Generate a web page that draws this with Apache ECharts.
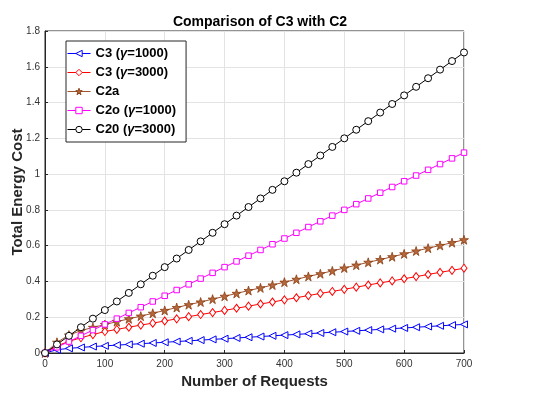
<!DOCTYPE html>
<html>
<head>
<meta charset="utf-8">
<script src="https://cdn.jsdelivr.net/npm/echarts@6/dist/echarts.min.js"></script>
<style>
html, body { margin: 0; padding: 0; background: #fff; }
#chart { width: 540px; height: 396px; }
</style>
</head>
<body>
<div id="chart"></div>
<script>
// number of requests (x)
var requests = [0, 20, 40, 60, 80, 100, 120, 140, 160, 180, 200, 220, 240, 260, 280, 300, 320, 340,
  360, 380, 400, 420, 440, 460, 480, 500, 520, 540, 560, 580, 600, 620, 640, 660, 680, 700];

var c3g1000 = [0, 0.018, 0.026, 0.031, 0.036, 0.040, 0.044, 0.048, 0.052, 0.056, 0.060, 0.064,
  0.068, 0.072, 0.076, 0.080, 0.084, 0.088, 0.092, 0.096, 0.100, 0.104, 0.108, 0.112, 0.116, 0.120,
  0.124, 0.128, 0.132, 0.136, 0.140, 0.144, 0.148, 0.152, 0.156, 0.160];
var c3g3000 = [0, 0.040, 0.065, 0.085, 0.103, 0.120, 0.132, 0.144, 0.156, 0.167, 0.179, 0.191,
  0.203, 0.215, 0.226, 0.238, 0.250, 0.262, 0.274, 0.285, 0.297, 0.309, 0.321, 0.333, 0.344, 0.356,
  0.368, 0.380, 0.392, 0.403, 0.415, 0.427, 0.439, 0.451, 0.462, 0.474];
var c2a = [0, 0.060, 0.100, 0.125, 0.143, 0.159, 0.175, 0.191, 0.206, 0.222, 0.238, 0.254,
  0.270, 0.285, 0.301, 0.317, 0.333, 0.349, 0.364, 0.380, 0.396, 0.412, 0.428, 0.443, 0.459, 0.475,
  0.491, 0.507, 0.522, 0.538, 0.554, 0.570, 0.586, 0.601, 0.617, 0.633];
var c2o = [0, 0.032, 0.064, 0.096, 0.128, 0.160, 0.192, 0.224, 0.256, 0.288, 0.320, 0.352,
  0.384, 0.416, 0.448, 0.480, 0.512, 0.544, 0.576, 0.608, 0.640, 0.672, 0.704, 0.736, 0.768, 0.800,
  0.832, 0.864, 0.896, 0.928, 0.960, 0.992, 1.024, 1.056, 1.088, 1.120];
var c20 = [0, 0.048, 0.096, 0.144, 0.192, 0.240, 0.288, 0.336, 0.384, 0.432, 0.480, 0.528,
  0.576, 0.624, 0.672, 0.720, 0.768, 0.816, 0.864, 0.912, 0.960, 1.008, 1.056, 1.104, 1.152, 1.200,
  1.248, 1.296, 1.344, 1.392, 1.440, 1.488, 1.536, 1.584, 1.632, 1.680];

var seriesNames = ['C3 (γ=1000)', 'C3 (γ=3000)', 'C2a', 'C2o (γ=1000)', 'C20 (γ=3000)'];

var FONT = '"Liberation Sans", Arial, sans-serif';
var starPath = 'path://M50,0 L61.8,36.2 L100,36.2 L69.1,58.6 L80.9,95.1 L50,72.7 L19.1,95.1 L30.9,58.6 L0,36.2 L38.2,36.2 Z';

function pairs(ys) {
  return requests.map(function (x, i) { return [x, ys[i]]; });
}

// hollow markers: white fill with a thin coloured edge
function mkSeries(name, ys, color, symbol, size, extra) {
  var s = {
    name: name,
    type: 'line',
    data: pairs(ys),
    symbol: symbol,
    symbolSize: size,
    showAllSymbol: true,
    lineStyle: { color: color, width: 1 },
    itemStyle: { color: '#fff', borderColor: color, borderWidth: 1 },
    emphasis: { disabled: true },
    animation: false
  };
  return Object.assign(s, extra || {});
}

var chart = echarts.init(document.getElementById('chart'));
chart.setOption({
  backgroundColor: '#fff',
  title: {
    text: 'Comparison of C3 with C2',
    left: 255, top: 10, textAlign: 'center',
    textStyle: { fontFamily: FONT, fontSize: 14, fontWeight: 'bold', color: '#000' }
  },
  legend: {
    orient: 'vertical',
    left: 66, top: 41,
    padding: [6, 10, 6, 1],
    itemGap: 6,
    itemWidth: 23, itemHeight: 8,
    backgroundColor: '#fff',
    borderColor: '#262626', borderWidth: 1, borderRadius: 0,
    lineStyle: { width: 1 },
    itemStyle: { borderWidth: 1 },
    data: seriesNames,
    formatter: function (n) {
      var m = n.match(/^(.*)\(γ(.*)\)$/);
      if (!m) return '{b|' + n + '}';
      return '{b|' + m[1] + '(}{i|γ}{b|' + m[2] + ')}';
    },
    textStyle: {
      fontFamily: FONT, fontSize: 13, fontWeight: 'bold', color: '#000',
      rich: {
        b: { fontFamily: FONT, fontSize: 13, fontWeight: 'bold', color: '#000' },
        i: { fontFamily: FONT, fontSize: 13, fontWeight: 'bold', fontStyle: 'italic', color: '#000' }
      }
    }
  },
  grid: {
    left: 45, right: 76, top: 31, bottom: 43,
    outerBoundsMode: 'none', containLabel: false,
    show: true, borderColor: '#262626', borderWidth: 1
  },
  xAxis: {
    type: 'value', min: 0, max: 700, interval: 100,
    name: 'Number of Requests', nameLocation: 'middle', nameGap: 21, nameMoveOverlap: false,
    nameTextStyle: { fontFamily: FONT, fontSize: 15, fontWeight: 'bold', color: '#262626' },
    axisLine: { lineStyle: { color: '#262626' } },
    axisTick: { inside: true, length: 3, lineStyle: { color: '#262626' } },
    axisLabel: { fontFamily: FONT, fontSize: 10, color: '#333', margin: 6 },
    splitLine: { lineStyle: { color: '#e3e3e3' } }
  },
  yAxis: {
    type: 'value', min: 0, max: 1.8, interval: 0.2,
    name: 'Total Energy Cost', nameLocation: 'middle', nameGap: 20, nameMoveOverlap: false,
    nameTextStyle: { fontFamily: FONT, fontSize: 15, fontWeight: 'bold', color: '#262626' },
    axisLine: { show: true, lineStyle: { color: '#262626' } },
    axisTick: { show: true, inside: true, length: 3, lineStyle: { color: '#262626' } },
    axisLabel: {
      fontFamily: FONT, fontSize: 10, color: '#333', margin: 5,
      formatter: function (v) { return +v.toFixed(1) + ''; }
    },
    splitLine: { lineStyle: { color: '#e3e3e3' } }
  },
  series: [
    mkSeries(seriesNames[0], c3g1000, '#0000ff', 'triangle', 7, { symbolRotate: 90 }),
    mkSeries(seriesNames[1], c3g3000, '#ff0000', 'diamond', [6, 8]),
    mkSeries(seriesNames[2], c2a, '#a0522d', starPath, 9,
      { itemStyle: { color: '#b5683a', borderColor: '#8a3f14', borderWidth: 0.8 } }),
    mkSeries(seriesNames[3], c2o, '#ff00ff', 'rect', 5.5),
    mkSeries(seriesNames[4], c20, '#000000', 'circle', 7)
  ]
});
</script>
</body>
</html>
